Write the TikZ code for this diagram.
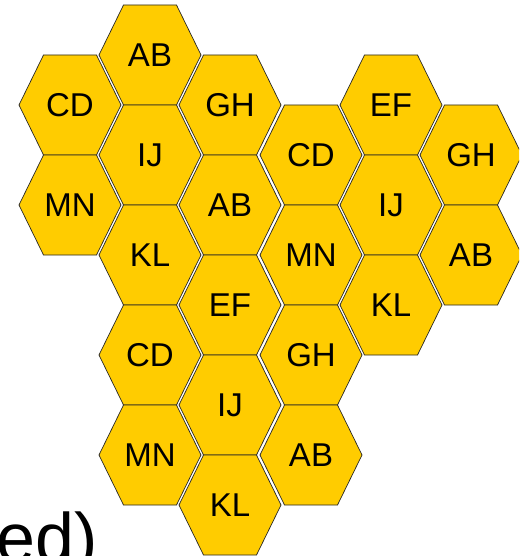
\documentclass[tikz,border=0pt]{standalone}
\usepackage{fontspec}
\setmainfont{Liberation Sans}
\definecolor{honey}{RGB}{255,204,0}
\tikzset{
  hexcell/.style={fill=honey,draw=black!85,line width=0.7pt,line join=miter},
  hexlabel/.style={font=\fontsize{33}{33}\selectfont,inner sep=0pt}
}
\begin{document}
\begin{tikzpicture}[x=1pt,y=-1pt]
  \useasboundingbox (0,0) rectangle (519,556);
  \clip (0,0) rectangle (519,556);
  % Honeycomb cells: centre x / centre y / label
  \foreach \cx/\cy/\lab in {
      70/105/CD, 70/205/MN,
      150/55/AB, 150/155/IJ, 150/255/KL, 150/355/CD, 150/455/MN,
      230/105/GH, 230/205/AB, 230/305/EF, 230/405/IJ, 230/505/KL,
      311/155/CD, 311/255/MN, 311/355/GH, 311/455/AB,
      391/105/EF, 391/205/IJ, 391/305/KL,
      471/155/GH, 471/255/AB} {
    \draw[hexcell] (\cx-51,\cy) -- (\cx-26.5,\cy-50) -- (\cx+26.5,\cy-50)
      -- (\cx+51,\cy) -- (\cx+26.5,\cy+50) -- (\cx-26.5,\cy+50) -- cycle;
    \node[hexlabel] (cell\cx\cy) at (\cx,\cy) {\lab};
  }
  % Cut-off caption at the bottom
  \node[anchor=base west,inner sep=0pt,font=\fontsize{70}{70}\selectfont]
    (caption) at (-4,562) {ed)};
\end{tikzpicture}
\end{document}
